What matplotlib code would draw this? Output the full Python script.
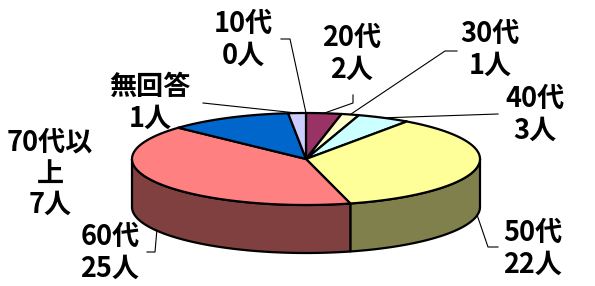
import numpy as np
import matplotlib
matplotlib.use("Agg")
import matplotlib.pyplot as plt
from matplotlib.patches import Polygon

plt.rcParams['font.family'] = ['Noto Sans CJK JP', 'DejaVu Sans']

# data (clockwise from 12 o'clock)
ages = ["10代", "20代", "30代", "40代", "50代", "60代", "70代以上", "無回答"]
counts = [0, 2, 1, 3, 22, 25, 7, 1]
labels = ["10代\n0人", "20代\n2人", "30代\n1人", "40代\n3人", "50代\n22人",
          "60代\n25人", "70代以\n上\n7人", "無回答\n1人"]

top_colors = ["#CCCCFF", "#993366", "#FFFFCC", "#CCFFFF", "#FFFF99",
              "#FF8080", "#0066CC", "#CCCCFF"]

# pie geometry in pixels
cx, cy, rx, ry, depth = 306, 159, 174, 46, 48


def pt(theta, z=0):
    t = np.radians(theta)
    return cx + rx * np.sin(t), cy - ry * np.cos(t) + z


def darker(c, f=0.5):
    r, g, b = matplotlib.colors.to_rgb(c)
    return (r * f, g * f, b * f)


fig = plt.figure(figsize=(5.95, 2.86), dpi=100)
ax = fig.add_axes([0, 0, 1, 1])
ax.set_xlim(0, 595)
ax.set_ylim(286, 0)
ax.axis("off")

total = sum(counts)
bounds = np.concatenate([[0], np.cumsum(counts)]) / total * 360
mids = (bounds[:-1] + bounds[1:]) / 2

# sides (only the front half, 90..270 deg)
for i in range(len(counts)):
    a0, a1 = max(bounds[i], 90), min(bounds[i + 1], 270)
    if a1 <= a0:
        continue
    th = np.linspace(a0, a1, 80)
    top = [pt(t) for t in th]
    bot = [pt(t, depth) for t in th[::-1]]
    ax.add_patch(Polygon(top + bot, closed=True, facecolor=darker(top_colors[i]),
                         edgecolor="black", lw=1.6, joinstyle="round"))

# top faces
for i in range(len(counts)):
    if counts[i] == 0:
        continue
    th = np.linspace(bounds[i], bounds[i + 1], 120)
    poly = [(cx, cy)] + [pt(t) for t in th]
    ax.add_patch(Polygon(poly, closed=True, facecolor=top_colors[i],
                         edgecolor="black", lw=1.6, joinstyle="round"))

# labels
fs = 19.5
label_pos = [(243, 40), (352, 54), (490, 50), (535, 115), (533, 249),
             (110, 253), (50, 174), (150, 103)]
for (x, y), s in zip(label_pos, labels):
    ax.text(x, y, s, ha="center", va="center", fontsize=fs, fontweight="bold",
            linespacing=1.15)

# leader lines
leaders = {
    0: [(281, 39), (290, 39), pt(mids[0])],
    1: [(353, 95), (353, 103), pt(mids[1])],
    2: [(457, 51), (445, 51), pt(mids[2])],
    3: [(498, 114), pt(mids[3])],
    4: [(498, 247), (488, 247), pt(mids[4], depth)],
    5: [(147, 252), (155, 252), pt(mids[5], depth)],
    7: [(203, 103), pt(mids[7])],
}
for k, pts in leaders.items():
    xs, ys = zip(*pts)
    ax.plot(xs, ys, color="black", lw=0.8)

fig.savefig("out.png", dpi=100)
